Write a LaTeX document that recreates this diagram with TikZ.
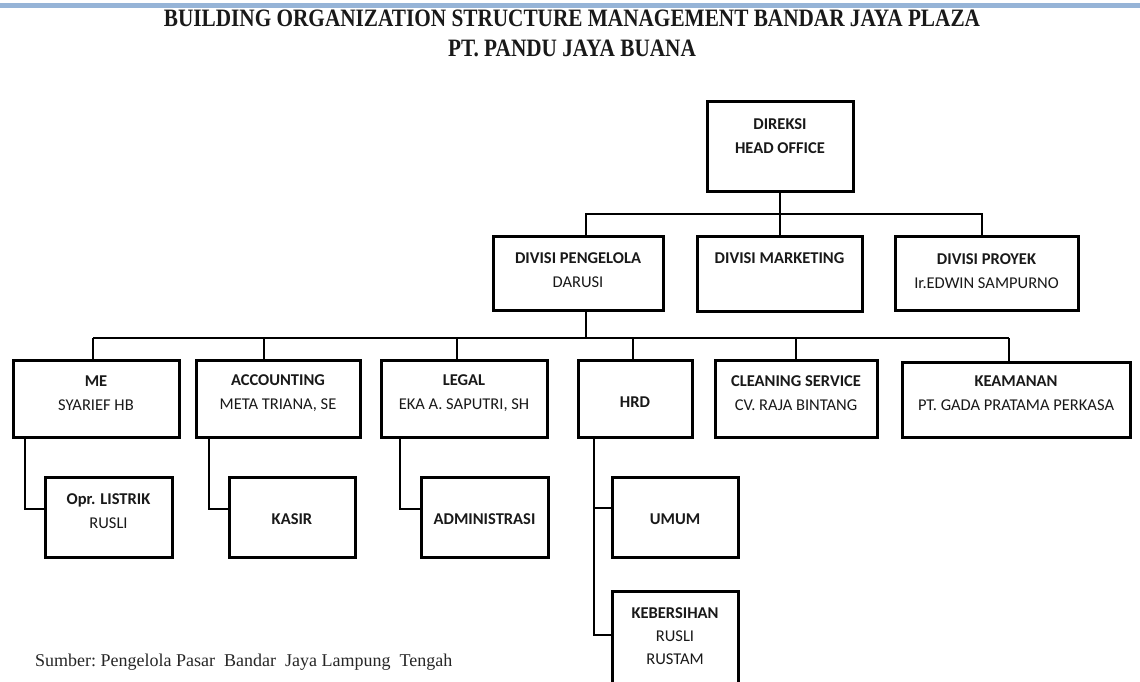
\documentclass[tikz,border=0pt]{standalone}
\usepackage{fontspec}
\setmainfont{Carlito}
\newfontfamily\titlefont[FakeStretch=0.85]{Liberation Serif}
\newfontfamily\srcfont{Liberation Serif}
\definecolor{rulerband}{RGB}{150,180,215}
\begin{document}
\begin{tikzpicture}[x=1pt,y=-1pt,
  box/.style={draw=black,line width=3pt,fill=white,inner sep=0pt},
  conn/.style={draw=black,line width=2pt},
  txt/.style={align=center,inner sep=0pt,text=black!90,font=\fontsize{16.5}{24}\selectfont},
  txtk/.style={align=center,inner sep=0pt,text=black!90,font=\fontsize{16.5}{23}\selectfont}]
\clip (0,0) rectangle (1140,681);
\fill[white] (0,0) rectangle (1140,681);
% top ruler band
\fill[rulerband] (0,3) rectangle (1140,7.5);
% title
\node[font=\titlefont\bfseries\fontsize{25}{30}\selectfont,inner sep=0pt,align=center,text=black!90] (title) at (572,33)
  {BUILDING ORGANIZATION STRUCTURE MANAGEMENT BANDAR JAYA PLAZA\\PT. PANDU JAYA BUANA};
% connector levels
\coordinate (bartop) at (0,214);
\coordinate (barmid) at (0,338);
% boxes level 1
\node[box,minimum width=146,minimum height=90] (direksi) at (780,146) {};
\node[txt] (direksi-t) at (780,136) {\textbf{DIREKSI}\\\textbf{HEAD OFFICE}};
% level 2
\node[box,minimum width=170,minimum height=74] (pengelola) at (578,273) {};
\node[txt] (pengelola-t) at (578,270) {\textbf{DIVISI PENGELOLA}\\DARUSI};
\node[box,minimum width=165,minimum height=75] (marketing) at (779.5,273.5) {};
\node[txt] (marketing-t) at (779.5,258) {\textbf{DIVISI MARKETING}};
\node[box,minimum width=183,minimum height=74] (proyek) at (986.5,273) {};
\node[txt] (proyek-t) at (986.5,271.5) {\textbf{DIVISI PROYEK}\\Ir.EDWIN SAMPURNO};
% level 3
\node[box,minimum width=166,minimum height=77] (me) at (96,398.5) {};
\node[txt] (me-t) at (96,393.5) {\textbf{ME}\\SYARIEF HB};
\node[box,minimum width=164,minimum height=77] (acc) at (278,398.5) {};
\node[txt] (acc-t) at (278,393.5) {\textbf{ACCOUNTING}\\META TRIANA, SE};
\node[box,minimum width=166,minimum height=77] (legal) at (464,398.5) {};
\node[txt] (legal-t) at (464,393.5) {\textbf{LEGAL}\\EKA A. SAPUTRI, SH};
\node[box,minimum width=114,minimum height=77] (hrd) at (635,398.5) {};
\node[txt] (hrd-t) at (635,402) {\textbf{HRD}};
\node[box,minimum width=162,minimum height=77] (cleaning) at (796,398.5) {};
\node[txt] (cleaning-t) at (796,393.5) {\textbf{CLEANING SERVICE}\\CV. RAJA BINTANG};
\node[box,minimum width=228,minimum height=75] (keamanan) at (1016,399.5) {};
\node[txt] (keamanan-t) at (1016,393.5) {\textbf{KEAMANAN}\\PT. GADA PRATAMA PERKASA};
% level 4
\node[box,minimum width=127,minimum height=80] (listrik) at (108.5,517) {};
\node[txt] (listrik-t) at (108.5,511.5) {\textbf{Opr. LISTRIK}\\RUSLI};
\node[box,minimum width=126,minimum height=80] (kasir) at (292,517) {};
\node[txt] (kasir-t) at (292,519) {\textbf{KASIR}};
\node[box,minimum width=127,minimum height=80] (admin) at (484.5,517) {};
\node[txt] (admin-t) at (484.5,519) {\textbf{ADMINISTRASI}};
\node[box,minimum width=126,minimum height=80] (umum) at (675,517) {};
\node[txt] (umum-t) at (675,519) {\textbf{UMUM}};
\node[box,minimum width=126,minimum height=110] (kebersihan) at (675,646) {};
\node[txtk] (kebersihan-t) at (675,636.5) {\textbf{KEBERSIHAN}\\RUSLI\\RUSTAM};
% connectors level 1 -> 2
\draw[conn] (direksi.south) -- (direksi.south |- bartop);
\draw[conn] ([xshift=8pt]pengelola.north) |- ([xshift=-4.5pt]proyek.north |- bartop) -- ([xshift=-4.5pt]proyek.north);
\draw[conn] (marketing.north |- bartop) -- (marketing.north);
% connectors level 2 -> 3
\coordinate (d1) at (93,338);
\coordinate (d2) at (264,338);
\coordinate (d3) at (457,338);
\coordinate (d4) at (633,338);
\coordinate (d5) at (796,338);
\coordinate (d6) at (1009,338);
\draw[conn] ([xshift=8pt]pengelola.south) -- ([xshift=8pt]pengelola.south |- barmid);
\draw[conn] (d1) -- (d6);
\draw[conn] (d1) -- (d1 |- me.north);
\draw[conn] (d2) -- (d2 |- acc.north);
\draw[conn] (d3) -- (d3 |- legal.north);
\draw[conn] (d4) -- (d4 |- hrd.north);
\draw[conn] (d5) -- (d5 |- cleaning.north);
\draw[conn] (d6) -- (d6 |- keamanan.north);
% connectors level 3 -> 4
\coordinate (s1) at (25,437);
\coordinate (s2) at (209,437);
\coordinate (s3) at (400,437);
\coordinate (s4) at (594,437);
\draw[conn] (s1) |- ([yshift=8pt]listrik.west);
\draw[conn] (s2) |- ([yshift=8pt]kasir.west);
\draw[conn] (s3) |- ([yshift=8pt]admin.west);
\draw[conn] (s4) |- ([yshift=9pt]umum.west);
\draw[conn] (s4) |- (kebersihan.west |- 0,635);
% source
\node[font=\srcfont\fontsize{18}{22}\selectfont,anchor=west,inner sep=0pt,text=black!85] (src) at (35,662)
  {Sumber:\ Pengelola Pasar\ \ Bandar\ \ Jaya Lampung\ \ Tengah};
\end{tikzpicture}
\end{document}
